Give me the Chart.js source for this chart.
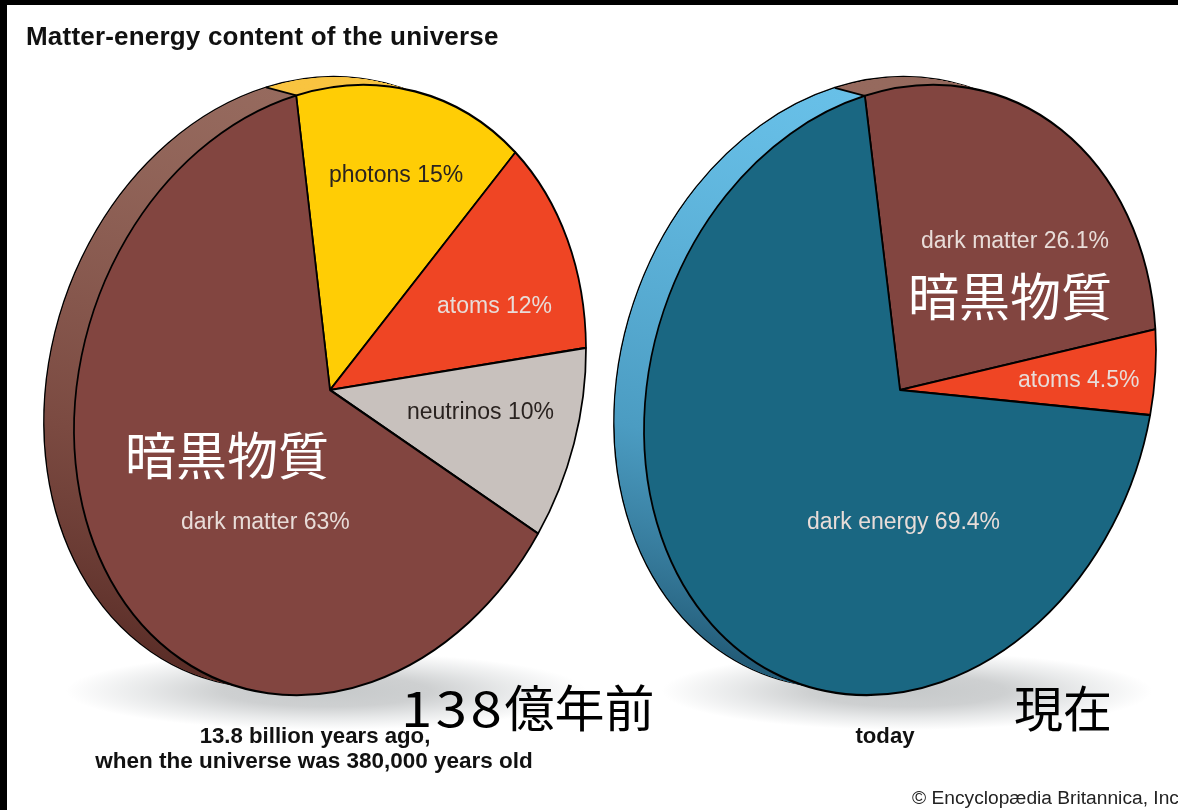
<!DOCTYPE html>
<html lang="en">
<head>
<meta charset="utf-8">
<title>Matter-energy content of the universe</title>
<script src="https://cdn.jsdelivr.net/npm/chart.js@4"></script>
<style>
  html, body { margin: 0; padding: 0; background: #fff; }
  #page { position: relative; width: 1178px; height: 810px; overflow: hidden; background: #fff;
          border-top: 5px solid #000; border-left: 7px solid #000; box-sizing: border-box; }
  #inner { position: absolute; left: -7px; top: -5px; width: 1178px; height: 810px; }
  canvas { position: absolute; top: 0; }
  #pastChart { left: 0; }
  #todayChart { left: 590px; }
  .shadow { position: absolute; top: 652px; height: 78px;
            background: radial-gradient(closest-side, #c6c9ca 0%, #ced0d1 40%, rgba(222,224,225,.7) 70%, rgba(255,255,255,0) 100%); }
  #shadowPast { left: 66px; width: 520px; }
  #shadowToday { left: 662px; width: 490px; }
  .t { position: absolute; white-space: nowrap; font-family: "Liberation Sans", sans-serif; line-height: 1; transform: translateY(-50%); }
  .slice { font-size: 23px; }
  .bold { font-weight: bold; color: #111; }
  .cap { font-size: 22.2px; transform: translate(-50%, -50%); }
  .jp { font-family: "Noto Sans CJK JP", sans-serif; font-size: 51px; color: #fff; }
  .jpb { color: #000; }
  .dark { color: #2a2320; }
  .light { color: #e8dcd8; }
  #jpAgoNum { display: inline-block; font-size: 49px; letter-spacing: 3px; transform: scaleX(1.15); transform-origin: left center; margin-right: 13px; }
</style>
</head>
<body>
<div id="page"><div id="inner">
  <div class="shadow" id="shadowPast"></div>
  <div class="shadow" id="shadowToday"></div>
  <canvas id="pastChart" width="590" height="810"></canvas>
  <canvas id="todayChart" width="588" height="810"></canvas>

  <div class="t bold" id="title" style="left:26px;top:36px;font-size:26px;letter-spacing:.2px"></div>

  <div class="t slice dark" id="pastLabel0" style="left:329px;top:174px"></div>
  <div class="t slice light" id="pastLabel1" style="left:437px;top:305px"></div>
  <div class="t slice dark" id="pastLabel2" style="left:407px;top:411px"></div>
  <div class="t slice light" id="pastLabel3" style="left:181px;top:521px"></div>

  <div class="t slice light" id="todayLabel0" style="left:921px;top:240px"></div>
  <div class="t slice light" id="todayLabel1" style="left:1018px;top:379px"></div>
  <div class="t slice light" id="todayLabel2" style="left:807px;top:521px"></div>

  <div class="t jp" id="jpPast" style="left:125px;top:453px"></div>
  <div class="t jp" id="jpToday" style="left:908px;top:294px"></div>
  <div class="t jp jpb" id="jpAgo" style="left:401px;top:705px;font-size:50px"><span id="jpAgoNum"></span><span id="jpAgoRest"></span></div>
  <div class="t jp jpb" id="jpNow" style="left:1014px;top:705px;font-size:49px"></div>

  <div class="t bold cap" id="capPast1" style="left:315px;top:736px"></div>
  <div class="t bold cap" id="capPast2" style="left:314px;top:761px;font-size:22.5px"></div>
  <div class="t bold cap" id="capToday" style="left:885px;top:736px"></div>
  <div class="t" id="credit" style="left:912px;top:798px;font-size:19.2px;color:#222"></div>
</div></div>

<script>
// data
const pastParts = ["photons", "atoms", "neutrinos", "dark matter"];
const pastValues = [15, 12, 10, 63];
const todayParts = ["dark matter", "atoms", "dark energy"];
const todayValues = [26.1, 4.5, 69.4];

const pastColors = ["#ffcd05", "#ef4524", "#c8c1bd", "#824540"];
const todayColors = ["#824540", "#ef4524", "#1a6782"];

// rim colours, top / middle / bottom of the pie
const yellowRim = ["#f9c440", "#e8b030", "#c08a10"];
const redRim = ["#d03a1c", "#c0341a", "#a02c14"];
const greyRim = ["#aaa5a0", "#a09a96", "#908a86"];
const brownRim = ["#966a5e", "#7b4a41", "#5b2e28"];
const blueRim = ["#68c0e8", "#4b9cc2", "#235c78"];
const pastRims = [yellowRim, redRim, greyRim, brownRim];
const todayRims = [brownRim, redRim, blueRim];

document.getElementById("title").textContent = "Matter-energy content of the universe";
pastParts.forEach((name, i) => {
  document.getElementById("pastLabel" + i).textContent = `${name} ${pastValues[i]}%`;
});
todayParts.forEach((name, i) => {
  document.getElementById("todayLabel" + i).textContent = `${name} ${todayValues[i]}%`;
});
document.getElementById("jpPast").textContent = "暗黒物質";
document.getElementById("jpToday").textContent = "暗黒物質";
document.getElementById("jpAgoNum").textContent = "138";
document.getElementById("jpAgoRest").textContent = "億年前";
document.getElementById("jpNow").textContent = "現在";
document.getElementById("capPast1").textContent = "13.8 billion years ago,";
document.getElementById("capPast2").textContent = "when the universe was 380,000 years old";
document.getElementById("capToday").textContent = "today";
document.getElementById("credit").textContent = "© Encyclopædia Britannica, Inc";

// the pies are tilted discs: a circle squeezed and sheared, with an extruded rim
const tilt = { a: 256, b: -40, d: 302.5 };
const depth = { x: -30, y: -8, steps: 60 };

const tiltedPie = {
  id: "tiltedPie",
  beforeDatasetsDraw(chart, args, opts) {
    const ctx = chart.ctx;
    const arcs = chart.getDatasetMeta(0).data;
    const R = arcs[0].outerRadius;
    const cx = arcs[0].x;
    const cy = arcs[0].y;

    const place = (dx, dy) => {
      ctx.transform(tilt.a / R, tilt.b / R, 0, tilt.d / R, opts.x + dx, opts.y + dy);
      ctx.translate(-cx, -cy);
    };

    const rimFills = opts.rims.map((stops) => {
      const g = ctx.createLinearGradient(0, cy - R, 0, cy + R);
      g.addColorStop(0, stops[0]);
      g.addColorStop(0.5, stops[1]);
      g.addColorStop(0.92, stops[2]);
      return g;
    });

    // rim: copies of the same arcs, stepped from the back towards the face
    for (let s = depth.steps; s >= 1; s--) {
      const k = s / depth.steps;
      ctx.save();
      place(depth.x * k, depth.y * k);
      arcs.forEach((arc, i) => {
        const saved = arc.options;
        arc.options = s === depth.steps
          ? { ...saved, backgroundColor: rimFills[i] }
          : { ...saved, backgroundColor: rimFills[i], borderWidth: 0 };
        arc.draw(ctx);
        arc.options = saved;
      });
      ctx.restore();
    }

    // edges where the slices meet on the rim
    ctx.save();
    ctx.strokeStyle = "#000";
    ctx.lineWidth = 1.8;
    arcs.forEach((arc) => {
      const u = Math.cos(arc.startAngle);
      const v = Math.sin(arc.startAngle);
      const sx = tilt.a * u + opts.x;
      const sy = tilt.b * u + tilt.d * v + opts.y;
      ctx.beginPath();
      ctx.moveTo(sx + depth.x, sy + depth.y);
      ctx.lineTo(sx, sy);
      ctx.stroke();
    });
    ctx.restore();

    ctx.save();
    place(0, 0);
  },
  afterDatasetsDraw(chart) {
    chart.ctx.restore();
  },
};

function makePie(id, labels, values, colors, rims, startAngle, x, y) {
  return new Chart(document.getElementById(id), {
    type: "pie",
    data: {
      labels: labels,
      datasets: [
        {
          data: values,
          backgroundColor: colors,
          borderColor: "#000",
          borderWidth: 2,
          clip: false,
        },
      ],
    },
    options: {
      responsive: false,
      animation: false,
      events: [],
      rotation: startAngle,
      plugins: {
        legend: { display: false },
        tooltip: { enabled: false },
        tiltedPie: { x: x, y: y, rims: rims },
      },
    },
    plugins: [tiltedPie],
  });
}

makePie("pastChart", pastParts, pastValues, pastColors, pastRims, -7.6, 330, 390);
makePie("todayChart", todayParts, todayValues, todayColors, todayRims, -7.9, 310, 390);
</script>
</body>
</html>
